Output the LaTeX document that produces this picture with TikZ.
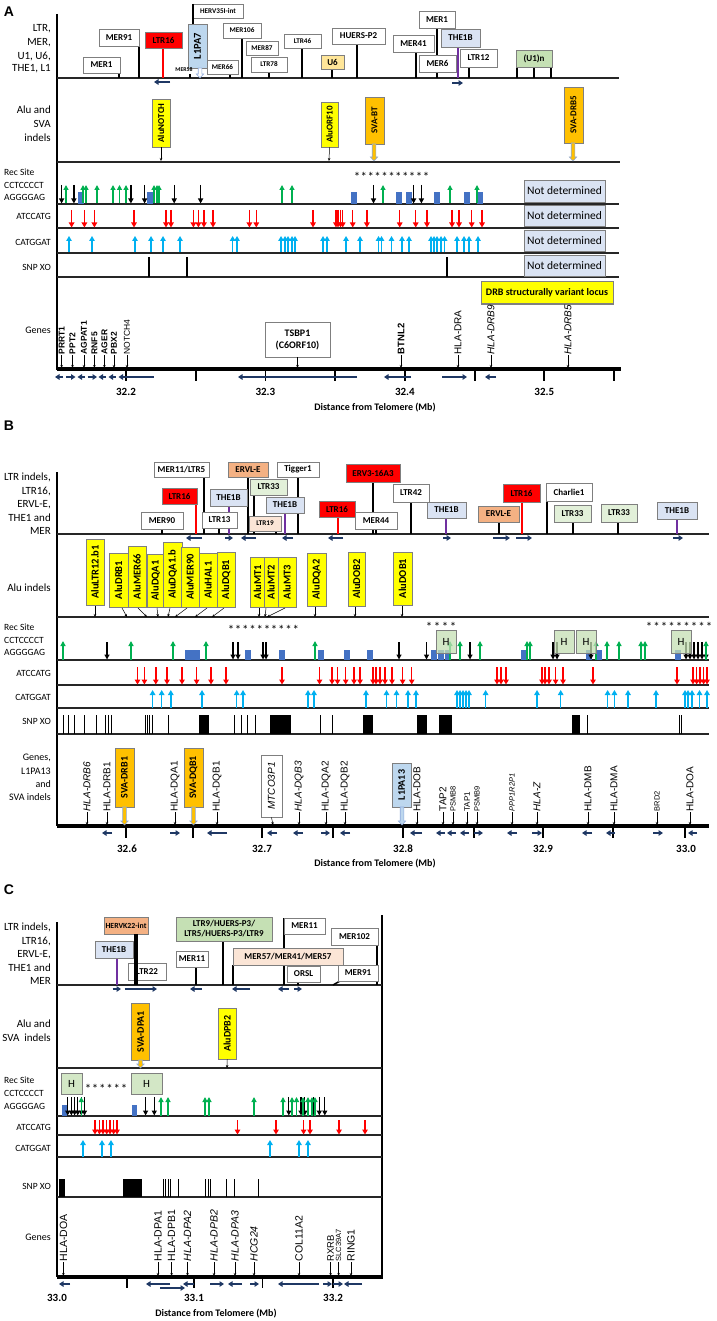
\documentclass[tikz,border=0pt]{standalone}
\usepackage{fontspec}
\setmainfont{Carlito}
\newfontfamily\arialf{Liberation Sans}
\usetikzlibrary{arrows.meta}
\definecolor{bxgray}{HTML}{7F7F7F}
\definecolor{ltrred}{HTML}{FF0000}
\definecolor{the}{HTML}{DAE3F3}
\definecolor{lone}{HTML}{BDD7EE}
\definecolor{grn}{HTML}{C5E0B4}
\definecolor{grnl}{HTML}{E2F0D9}
\definecolor{ervl}{HTML}{F4B183}
\definecolor{peach}{HTML}{FBE5D6}
\definecolor{usix}{HTML}{FFE699}
\definecolor{aluy}{HTML}{FFFF00}
\definecolor{svao}{HTML}{FFC000}
\definecolor{garr}{HTML}{00B050}
\definecolor{carr}{HTML}{00B0F0}
\definecolor{rectb}{HTML}{4472C4}
\definecolor{navy}{HTML}{1F3864}
\definecolor{purp}{HTML}{7030A0}
\definecolor{arrb}{HTML}{8FAADC}
\newcommand\LB[7]{\pgfmathsetmacro\lbcx{(#2+#4)/2}\pgfmathsetmacro\lbcy{(#3+#5)/2}%
\pgfmathsetmacro\lbw{#4-#2}\pgfmathsetmacro\lbh{#5-#3}%
\node[bx,minimum width=\lbw pt,minimum height=\lbh pt,#6] (#1) at (\lbcx,\lbcy) {#7};}
\newcommand\VB[7]{\pgfmathsetmacro\lbcx{(#2+#4)/2}\pgfmathsetmacro\lbcy{(#3+#5)/2}%
\pgfmathsetmacro\lbw{#4-#2}\pgfmathsetmacro\lbh{#5-#3}%
\node[bx,rotate=90,minimum width=\lbh pt,minimum height=\lbw pt,font=\bfseries\fontsize{10.5}{11}\selectfont,#6] (#1) at (\lbcx,\lbcy) {#7};}
\newcommand\FA[4]{\filldraw[fill=#4,draw=arrb,line width=0.6pt] (#1-1.8,#2) -- (#1+1.8,#2) -- (#1+1.8,#3-4) -- (#1+3.6,#3-4) -- (#1,#3) -- (#1-3.6,#3-4) -- (#1-1.8,#3-4) -- cycle;}
\newcommand\GL[6]{\node[glab,#5] (#1) at (#2,#3) {#6}; \draw[garw] (#1.west) -- (#2,#4);}
\begin{document}
\begin{tikzpicture}[x=1pt,y=-1pt,
 bx/.style={draw=bxgray,line width=0.8pt,inner sep=0pt,fill=white,font=\bfseries\fontsize{9}{10}\selectfont,align=center},
 sm/.style={font=\bfseries\fontsize{7.2}{8}\selectfont},
 trk/.style={line width=1.1pt,draw=black!85},
 lk/.style={line width=2.2pt},
 tk/.style={line width=1.5pt},
 rl/.style={draw=red,line width=1.5pt},
 pl/.style={draw=purp,line width=1.5pt},
 bkar/.style={draw=black,line width=1.2pt,-{Triangle[length=5pt,width=5pt]}},
 gnar/.style={draw=garr,line width=1.2pt,-{Triangle[length=5pt,width=5pt]}},
 rdar/.style={draw=red,line width=1.5pt,-{Triangle[length=5pt,width=5.5pt]}},
 cyar/.style={draw=carr,line width=1.5pt,-{Triangle[length=5pt,width=5.5pt]}},
 sarw/.style={draw=navy,line width=1.8pt,-{Triangle[length=4.5pt,width=5.5pt]}},
 garw/.style={line width=0.5pt,-{Stealth[length=3pt,width=2.5pt]}},
 tlab/.style={font=\fontsize{11}{13}\selectfont,anchor=east,inner sep=0pt},
 slab/.style={font=\fontsize{9.5}{11}\selectfont,anchor=east,inner sep=0pt},
 rlab/.style={font=\fontsize{9.5}{11}\selectfont,anchor=west,inner sep=0pt},
 glab/.style={font=\arialf\fontsize{10}{11}\selectfont,rotate=90,anchor=west,inner sep=0.5pt},
 hbx/.style={fill=grn,fill opacity=0.75,text opacity=1,font=\fontsize{11}{12}\selectfont},
 strs/.style={font=\fontsize{13}{13}\selectfont,inner sep=0pt},
 ticklab/.style={font=\bfseries\fontsize{11}{12}\selectfont},
 dist/.style={font=\bfseries\fontsize{10}{11}\selectfont},
 plab/.style={font=\arialf\bfseries\fontsize{14}{14}\selectfont},
 ndb/.style={fill=the,font=\fontsize{11.5}{12}\selectfont},
 gax/.style={line width=3.4pt},
 vax/.style={line width=2.2pt}]
\useasboundingbox (0,0) rectangle (716,1321);
\fill[white] (0,0) rectangle (716,1321);
%%%%%%%%%%%%%%%%%%%%%%%% PANEL A
\node[plab] (pA) at (9,12) {A};
\draw[vax] (57,14) -- (57,370);
\draw[trk] (57,78) -- (619,78);
\draw[trk] (57,162) -- (620,162);
\draw[trk] (57,204) -- (619,204);
\draw[trk] (57,228) -- (619,228);
\draw[trk] (57,253) -- (619,253);
\draw[trk] (57,277) -- (619,277);
\draw[gax] (57,369) -- (621,369);
\node[tlab] (la1) at (51,29) {LTR,};
\node[tlab] (la2) at (51,43) {MER,};
\node[tlab] (la3) at (51,56) {U1, U6,};
\node[tlab] (la4) at (51,69) {THE1, L1};
\node[tlab] (la5) at (51,110) {Alu and};
\node[tlab] (la6) at (51,124) {SVA};
\node[tlab] (la7) at (51,138) {indels};
\node[rlab] (la8) at (4,172) {Rec Site};
\node[rlab] (la9) at (4,185) {CCTCCCCT};
\node[rlab] (la10) at (4,197) {AGGGGAG};
\node[slab] (la11) at (51,216) {ATCCATG};
\node[slab] (la12) at (51,242) {CATGGAT};
\node[slab] (la13) at (51,267) {SNP XO};
\node[slab,font=\fontsize{10}{11}\selectfont] (la14) at (51,330) {Genes};
% LTR connectors
\draw[tk] (119,73) -- (119,78);
\draw[lk] (139,40) -- (139,78);
\draw[rl] (163,48) -- (163,78);
\draw[tk] (190,74) -- (190,78);
\draw[tk] (230,74) -- (230,78);
\draw[lk] (242,38) -- (242,78);
\draw[tk] (269,72) -- (269,78);
\draw[lk] (302,48) -- (302,78);
\draw[tk] (332,69) -- (332,78);
\draw[lk] (357,44) -- (357,78);
\draw[lk] (416,52) -- (416,78);
\draw[lk] (437,28) -- (437,78);
\draw[pl] (458,47) -- (458,78);
\draw[tk] (469,67) -- (469,78);
\foreach \x in {517,534,551} \draw[tk] (\x,67) -- (\x,78);
\LB{a1}{83}{57}{120}{73}{}{MER1}
\LB{a2}{99}{29}{139}{46}{}{MER91}
\LB{a3}{145}{32}{182}{48}{fill=ltrred}{LTR16}
\LB{a4}{193}{4}{243}{18}{sm}{HERV35I-int}
\draw[lk] (193,4) -- (193,24);
\VB{a5}{188}{24}{207}{68}{fill=lone,font=\bfseries\fontsize{10.5}{11}\selectfont}{L1PA7}
\FA{200}{68}{78}{white}
\node[font=\bfseries\fontsize{5.8}{6}\selectfont,inner sep=0pt] (a6) at (184,70) {MER58};
\LB{a7}{207}{60}{238}{74}{sm}{MER66}
\LB{a8}{223}{23}{261}{38}{sm}{MER106}
\LB{a9}{246}{41}{278}{55}{sm}{MER87}
\LB{a10}{251}{57}{287}{72}{sm}{LTR78}
\LB{a11}{284}{34}{321}{48}{sm}{LTR46}
\LB{a12}{321}{55}{344}{69}{fill=usix}{U6}
\LB{a13}{332}{28}{385}{44}{}{HUERS-P2}
\LB{a14}{393}{35}{434}{52}{}{MER41}
\LB{a15}{419}{11}{455}{28}{}{MER1}
\LB{a16}{419}{55}{456}{72}{}{MER6}
\LB{a17}{441}{29}{480}{47}{fill=the}{THE1B}
\LB{a18}{460}{49}{497}{67}{}{LTR12}
\LB{a19}{516}{50}{552}{67}{fill=grn}{(U1)n}
\draw[sarw] (170,82) -- (154,82);
\draw[sarw] (452,83) -- (463,83);
% Alu A
\VB{a20}{152}{99}{170}{147}{fill=aluy,font=\bfseries\fontsize{9}{10}\selectfont}{AluNOTCH}
\draw[garw] (a20.west) -- (161,161);
\VB{a21}{321}{102}{338}{147}{fill=aluy,font=\bfseries\fontsize{9}{10}\selectfont}{AluORF10}
\draw[garw] (a21.west) -- (329,161);
\VB{a22}{365}{97}{384}{144}{fill=svao,font=\bfseries\fontsize{9}{10}\selectfont}{SVA-BT}
\FA{374}{144}{161}{svao}
\VB{a23}{564}{87}{583}{143}{fill=svao,font=\bfseries\fontsize{9}{10}\selectfont}{SVA-DRB5}
\FA{573}{143}{161}{svao}
% Rec A
\foreach \i in {0,...,10} \node[strs] at (357+\i*6.9,177) {*};
\foreach \x in {81,150,354,399,409,437,467,480} \fill[rectb] (\x-2.8,192) rectangle (\x+2.8,204);
\foreach \x in {61.6,73.9,130.9,144.6,174.2,200.6,373.5,413.6,421.4} \draw[bkar] (\x,185) -- (\x,203.5);
\foreach \x in {66,83,86,97,113,119.5,126,154,157,159,282,292,383,450,477} \draw[gnar] (\x,203.5) -- (\x,185);
\foreach \x in {71.6,84.4,94.4,134,166,171,193.4,198.4,203.9,213,249.4,256.3,313,336,338,340.5,342.7,352.7,366.9,399.7,415.7,427,452,459,471.7,482} \draw[rdar] (\x,210) -- (\x,227.5);
\foreach \x in {69,92,135,151,163,180,232.6,237,281,285,288,292,295,323,327,346,360,378.5,381.5,391.5,402,409,431,434,437,441,444.6,457,464,469,478} \draw[cyar] (\x,252.5) -- (\x,236);
\foreach \x in {149,187,447} \draw[line width=1.1pt] (\x,257) -- (\x,277);
\LB{nd1}{524}{180}{605}{202}{ndb}{Not determined}
\LB{nd2}{524}{205}{605}{226}{ndb}{Not determined}
\LB{nd3}{524}{230}{605}{251}{ndb}{Not determined}
\LB{nd4}{524}{255}{605}{276}{ndb}{Not determined}
\LB{drb}{481}{282}{613}{304}{fill=aluy,draw=black!50,line width=1pt,font=\bfseries\fontsize{10}{11}\selectfont}{DRB structurally variant locus}
% Genes A
\GL{g1}{61.6}{355}{368}{font=\arialf\bfseries\fontsize{8.5}{9}\selectfont}{PRRT1}
\GL{g2}{72.5}{355}{368}{font=\arialf\bfseries\fontsize{8.5}{9}\selectfont}{PPT2}
\GL{g3}{84}{355}{368}{font=\arialf\bfseries\fontsize{8.5}{9}\selectfont}{AGPAT1}
\GL{g4}{94.4}{355}{368}{font=\arialf\bfseries\fontsize{8.5}{9}\selectfont}{RNF5}
\GL{g5}{104.4}{355}{368}{font=\arialf\bfseries\fontsize{8.5}{9}\selectfont}{AGER}
\GL{g6}{114}{355}{368}{font=\arialf\bfseries\fontsize{8.5}{9}\selectfont}{PBX2}
\GL{g7}{127}{355}{368}{font=\arialf\fontsize{8.5}{9}\selectfont}{NOTCH4}
\LB{tsbp}{265}{322}{330}{357}{font=\bfseries\fontsize{10}{12}\selectfont}{TSBP1\\(C6ORF10)}
\draw[garw] (tsbp.south) -- (297.5,368);
\GL{g8}{401}{355}{368}{font=\arialf\bfseries\fontsize{9.5}{10}\selectfont}{BTNL2}
\GL{g9}{458}{355}{368}{}{HLA-DRA}
\GL{g10}{491}{355}{368}{font=\arialf\itshape\fontsize{10}{11}\selectfont}{HLA-DRB9}
\GL{g11}{568}{355}{368}{font=\arialf\itshape\fontsize{10}{11}\selectfont}{HLA-DRB5}
\foreach \x in {126,195.7,265.4,335,404.9,474.6,544.3,614} \draw[line width=1.8pt] (\x,369) -- (\x,381);
\node[ticklab] (ta1) at (126,392) {32.2};
\node[ticklab] (ta2) at (265.4,392) {32.3};
\node[ticklab] (ta3) at (404.9,392) {32.4};
\node[ticklab] (ta4) at (544.3,392) {32.5};
\node[dist] (da) at (375,408) {Distance from Telomere (Mb)};
\draw[sarw] (63,377) -- (55,377);
\draw[sarw] (66,377) -- (75.5,377);
\draw[sarw] (85,377) -- (77.5,377);
\draw[sarw] (87.5,377) -- (97,377);
\draw[sarw] (106,377) -- (98.5,377);
\draw[sarw] (115.5,377) -- (108.5,377);
\draw[sarw] (153.5,377) -- (118.5,377);
\draw[sarw] (357,377) -- (238,377);
\draw[sarw] (411,377) -- (384,377);
\draw[sarw] (442,377) -- (467,377);
\draw[sarw] (496,377) -- (485,377);
%%%%%%%%%%%%%%%%%%%%%%%% PANEL B
\node[plab] (pB) at (9,426) {B};
\draw[vax] (57,472) -- (57,826);
\draw[trk] (57,534) -- (709,534);
\draw[trk] (57,617) -- (709,617);
\draw[trk] (57,660) -- (709,660);
\draw[trk] (57,685) -- (709,685);
\draw[trk] (57,708) -- (709,708);
\draw[trk] (57,734) -- (709,734);
\draw[gax] (57,826) -- (709,826);
\node[tlab] (lb1) at (51,477) {LTR indels,};
\node[tlab] (lb2) at (51,491) {LTR16,};
\node[tlab] (lb3) at (51,505) {ERVL-E,};
\node[tlab] (lb4) at (51,518) {THE1 and};
\node[tlab] (lb5) at (51,531) {MER};
\node[tlab] (lb6) at (51,588) {Alu indels};
\node[rlab] (lb7) at (4,627) {Rec Site};
\node[rlab] (lb8) at (4,640) {CCTCCCCT};
\node[rlab] (lb9) at (4,652) {AGGGGAG};
\node[slab] (lb10) at (51,673) {ATCCATG};
\node[slab] (lb11) at (51,697) {CATGGAT};
\node[slab] (lb12) at (51,721) {SNP XO};
\node[slab,font=\fontsize{10}{11}\selectfont] (lb13) at (51,758) {Genes,};
\node[slab,font=\fontsize{10}{11}\selectfont] (lb14) at (51,771) {L1PA13};
\node[slab,font=\fontsize{10}{11}\selectfont] (lb15) at (51,784) {and};
\node[slab,font=\fontsize{10}{11}\selectfont] (lb16) at (51,797) {SVA indels};
% connectors
\draw[lk] (204,477) -- (204,534);
\draw[lk] (248,477) -- (248,534);
\draw[lk] (298,477) -- (298,534);
\draw[rl] (196,504) -- (196,534);
\draw[pl] (229,506) -- (229,534);
\draw[lk] (254,495) -- (254,534);
\draw[pl] (285,513) -- (285,534);
\draw[tk] (219,528) -- (219,534);
\draw[tk] (276,531) -- (276,534);
\draw[tk] (162,529) -- (162,534);
\draw[rl] (338,517) -- (338,534);
\draw[lk] (373,482) -- (373,534);
\draw[tk] (376,529) -- (376,534);
\draw[lk] (411,502) -- (411,534);
\draw[pl] (446,518) -- (446,534);
\draw[lk] (499,522) -- (499,534);
\draw[rl] (522,502) -- (522,534);
\draw[lk] (547,495) -- (547,534);
\draw[lk] (573,522) -- (573,534);
\draw[lk] (618,522) -- (618,534);
\draw[pl] (677,519) -- (677,534);
\LB{b1}{154}{462}{209}{477}{}{MER11/LTR5}
\LB{b2}{228}{462}{268}{477}{fill=ervl}{ERVL-E}
\LB{b3}{277}{462}{319}{477}{}{Tigger1}
\LB{b4}{162}{488}{197}{504}{fill=ltrred}{LTR16}
\LB{b5}{210}{489}{247}{506}{fill=the}{THE1B}
\LB{b6}{250}{479}{287}{495}{fill=grnl}{LTR33}
\LB{b7}{266}{497}{304}{513}{fill=the}{THE1B}
\LB{b8}{202}{512}{237}{528}{}{LTR13}
\LB{b9}{249}{516}{281}{531}{fill=peach,sm}{LTR19}
\LB{b10}{141}{512}{183}{529}{}{MER90}
\LB{b11}{319}{501}{355}{517}{fill=ltrred}{LTR16}
\LB{b12}{346}{464}{400}{482}{fill=ltrred}{ERV3-16A3}
\LB{b13}{355}{512}{397}{529}{}{MER44}
\LB{b14}{393}{484}{429}{502}{}{LTR42}
\LB{b15}{427}{502}{466}{518}{fill=the}{THE1B}
\LB{b16}{478}{506}{519}{522}{fill=ervl}{ERVL-E}
\LB{b17}{503}{484}{540}{502}{fill=ltrred}{LTR16}
\LB{b18}{546}{483}{592}{501}{}{Charlie1}
\LB{b19}{554}{505}{591}{522}{fill=grnl}{LTR33}
\LB{b20}{601}{504}{637}{522}{fill=grnl}{LTR33}
\LB{b21}{657}{502}{697}{519}{fill=the}{THE1B}
\draw[sarw] (202,538) -- (186,538);
\draw[sarw] (225,538) -- (233,538);
\draw[sarw] (256,538) -- (241,538);
\draw[sarw] (293,538) -- (282,538);
\draw[sarw] (343,538) -- (328,538);
\draw[sarw] (443,538) -- (451,538);
\draw[sarw] (493,538) -- (510,538);
\draw[sarw] (516,538) -- (532,538);
\draw[sarw] (673,538) -- (683,538);
% Alu B
\VB{u1}{86}{539}{104}{605}{fill=aluy}{AluLTR12.b1}
\VB{u2}{109}{553}{128}{607}{fill=aluy}{AluDRB1}
\VB{u3}{128}{546}{146}{607}{fill=aluy}{AluMER66}
\VB{u4}{147}{554}{164}{607}{fill=aluy}{AluDQA1}
\VB{u5}{163}{542}{182}{607}{fill=aluy}{AluDQA1.b}
\VB{u6}{181}{547}{199}{607}{fill=aluy}{AluMER90}
\VB{u7}{199}{553}{217}{607}{fill=aluy}{AluHAL1}
\VB{u8}{217}{552}{235}{607}{fill=aluy}{AluDQB1}
\VB{u9}{250}{557}{265}{607}{fill=aluy}{AluMT1}
\VB{u10}{264}{557}{278}{607}{fill=aluy}{AluMT2}
\VB{u11}{278}{557}{296}{607}{fill=aluy}{AluMT3}
\VB{u12}{307}{553}{326}{606}{fill=aluy}{AluDQA2}
\VB{u13}{348}{552}{365}{606}{fill=aluy}{AluDOB2}
\VB{u14}{393}{552}{412}{605}{fill=aluy}{AluDOB1}
\draw[garw] (95,606) -- (95,617);
\draw[garw] (122,608) -- (127,617);
\draw[garw] (138,608) -- (147,617);
\draw[garw] (157,608) -- (158,617);
\draw[garw] (170,608) -- (168,617);
\draw[garw] (187,608) -- (175,617);
\draw[garw] (207,608) -- (195,617);
\draw[garw] (224,608) -- (212,617);
\draw[garw] (259,608) -- (259,617);
\draw[garw] (266,608) -- (265,617);
\draw[garw] (285,608) -- (267,617);
\draw[garw] (315,607) -- (315,617);
\draw[garw] (355,607) -- (355,617);
\draw[garw] (402,606) -- (402,617);
% Rec B
\foreach \i in {0,...,9} \node[strs] at (231+\i*7.2,630) {*};
\foreach \i in {0,...,3} \node[strs] at (429+\i*8,627) {*};
\foreach \i in {0,...,8} \node[strs] at (649+\i*7.5,627) {*};
\fill[rectb] (185,650) rectangle (200,660);
\foreach \x in {248,282,320.5,347,369.5,434,441,448,523.5,589,599,677.5} \fill[rectb] (\x-3,650) rectangle (\x+3,660);
\foreach \x in {107,233,238,263,266,399,426.5,470,553,557,591,686,690,694,698,702,706} \draw[bkar] (\x,642) -- (\x,659.5);
\foreach \x in {63,131,173,206,315,450,460,480,527,530,596,607,619,641,645,706} \draw[gnar] (\x,659.5) -- (\x,641);
\LB{h1}{436}{630}{456}{653}{hbx}{H}
\LB{h2}{554}{630}{574}{653}{hbx}{H}
\LB{h3}{576}{630}{596}{653}{hbx}{H}
\LB{h4}{671}{630}{691}{653}{hbx}{H}
\foreach \x in {137.5,144.4,155.8,167,182,196.6,211,226,282,319.5,332,337.5,345.7,354,360,373,376,380,385,392,402.6,411.7,497,501,506,542,545,549,555.6,563,593,677,693,696.6,700,703.6,707} \draw[rdar] (\x,667) -- (\x,684.5);
\foreach \x in {152.6,161.7,170.8,202,236.7,243,308,314,366,386.5,396.5,408,416,457,460,463,466,469,485.6,537,560.7,607.6,614.4,628,656,685,688,692,699.5,707} \draw[cyar] (\x,707.5) -- (\x,690);
\foreach \x in {63.4,68,74,84,96.6,105,108,111,145.7,147.5,149.8,152,168,234.5,241,247,255,320,332,587,679,681} \draw[line width=1pt] (\x,715) -- (\x,734);
\foreach \a/\b in {199/209,270/291,363/373,417/427,439/452,572/580} \fill (\a,715) rectangle (\b,734);
% Genes B
\GL{gb1}{87}{812}{825}{font=\arialf\itshape\fontsize{10}{11}\selectfont}{HLA-DRB6}
\GL{gb2}{107}{812}{825}{}{HLA-DRB1}
\VB{sv1}{115}{748}{134}{807}{fill=svao,font=\bfseries\fontsize{10}{11}\selectfont}{SVA-DRB1}
\FA{124.5}{807}{825}{svao}
\GL{gb3}{175}{812}{825}{}{HLA-DQA1}
\VB{sv2}{184}{748}{203}{807}{fill=svao,font=\bfseries\fontsize{10}{11}\selectfont}{SVA-DQB1}
\FA{193.5}{807}{825}{svao}
\GL{gb4}{217}{812}{825}{}{HLA-DQB1}
\VB{mt}{261}{755}{282}{817}{font=\arialf\itshape\fontsize{10}{11}\selectfont}{MTCO3P1}
\draw[garw] (mt.west) -- (273,825);
\GL{gb5}{299}{812}{825}{font=\arialf\itshape\fontsize{10}{11}\selectfont}{HLA-DQB3}
\GL{gb6}{326}{812}{825}{}{HLA-DQA2}
\GL{gb7}{345}{812}{825}{}{HLA-DQB2}
\VB{l13}{392}{763}{411}{807}{fill=lone,font=\bfseries\fontsize{10}{11}\selectfont}{L1PA13}
\FA{402}{807}{825}{lone}
\GL{gb8}{417}{812}{825}{}{HLA-DOB}
\GL{gb9}{443}{812}{825}{}{TAP2}
\GL{gb10}{453}{812}{825}{font=\arialf\fontsize{7.5}{8}\selectfont}{PSMB8}
\GL{gb11}{467}{812}{825}{font=\arialf\fontsize{8}{9}\selectfont}{TAP1}
\GL{gb12}{477}{812}{825}{font=\arialf\fontsize{7.5}{8}\selectfont}{PSMB9}
\GL{gb13}{512}{812}{825}{font=\arialf\itshape\fontsize{7.5}{8}\selectfont}{PPP1R2P1}
\GL{gb14}{537}{812}{825}{font=\arialf\itshape\fontsize{10}{11}\selectfont}{HLA-Z}
\GL{gb15}{588}{812}{825}{}{HLA-DMB}
\GL{gb16}{614}{812}{825}{}{HLA-DMA}
\GL{gb17}{657}{812}{825}{font=\arialf\fontsize{7.5}{8}\selectfont}{BRD2}
\GL{gb18}{690}{812}{825}{}{HLA-DOA}
\foreach \x in {126,193,262,333,403,474,543,613,685} \draw[line width=1.8pt] (\x,826) -- (\x,838);
\node[ticklab] (tb1) at (127,849) {32.6};
\node[ticklab] (tb2) at (262,849) {32.7};
\node[ticklab] (tb3) at (403,849) {32.8};
\node[ticklab] (tb4) at (543,849) {32.9};
\node[ticklab] (tb5) at (686,849) {33.0};
\node[dist] (db) at (375,864) {Distance from Telomere (Mb)};
\foreach \a/\b in {112/102,170/180,227/207,277/267,303/293,321/330,350/340,422/410,445/436,456/447,469/460,474/483,517/507,532/542,592/582,615/606,653/663,697/688} \draw[sarw] (\a,833) -- (\b,833);
%%%%%%%%%%%%%%%%%%%%%%%% PANEL C
\node[plab] (pC) at (9,890) {C};
\draw[vax] (57,922) -- (57,1277);
\draw[line width=1.5pt] (382,915) -- (382,1277);
\draw[trk] (57,985) -- (382,985);
\draw[trk] (57,1068) -- (382,1068);
\draw[trk] (57,1116) -- (382,1116);
\draw[trk] (57,1135) -- (382,1135);
\draw[trk] (57,1157) -- (382,1157);
\draw[trk] (57,1197) -- (382,1197);
\draw[gax] (57,1277) -- (383,1277);
\node[tlab] (lc1) at (51,927) {LTR indels,};
\node[tlab] (lc2) at (51,941) {LTR16,};
\node[tlab] (lc3) at (51,955) {ERVL-E,};
\node[tlab] (lc4) at (51,968) {THE1 and};
\node[tlab] (lc5) at (51,981) {MER};
\node[tlab] (lc6) at (51,1024) {Alu and};
\node[tlab] (lc7) at (51,1038) {SVA\ \ indels};
\node[rlab] (lc8) at (4,1080) {Rec Site};
\node[rlab] (lc9) at (4,1093) {CCTCCCCT};
\node[rlab] (lc10) at (4,1106) {AGGGGAG};
\node[slab] (lc11) at (51,1127) {ATCCATG};
\node[slab] (lc12) at (51,1148) {CATGGAT};
\node[slab] (lc13) at (51,1186) {SNP XO};
\node[slab,font=\fontsize{10}{11}\selectfont] (lc14) at (51,1237) {Genes};
\draw[pl] (117,958) -- (117,985);
\draw[lk] (223,941) -- (223,985);
\draw[lk] (196,967) -- (196,985);
\draw[lk] (284,918) -- (284,985);
\draw[lk] (233,965) -- (233,985);
\draw[lk] (377,945) -- (377,985);
\draw[tk] (298,982) -- (298,985);
\draw[tk] (340,981) -- (333,985);
\LB{c1}{104}{917}{148}{934}{fill=ervl,font=\bfseries\fontsize{7.8}{9}\selectfont}{HERVK22-int}
\LB{c2}{95}{941}{133}{958}{fill=the}{THE1B}
\LB{c3}{128}{963}{166}{980}{}{LTR22}
\draw[line width=3.8pt] (136,934) -- (136,985);
\LB{c4}{176}{917}{272}{941}{fill=grn}{LTR9/HUERS-P3/\\LTR5/HUERS-P3/LTR9}
\LB{c5}{176}{951}{208}{967}{}{MER11}
\LB{c6}{284}{918}{325}{934}{}{MER11}
\LB{c7}{233}{948}{343}{965}{fill=peach}{MER57/MER41/MER57}
\LB{c8}{331}{928}{378}{945}{}{MER102}
\LB{c9}{287}{966}{320}{982}{}{ORSL}
\LB{c10}{338}{965}{378}{981}{}{MER91}
\draw[sarw] (112.5,989) -- (121,989);
\draw[sarw] (124.7,989) -- (157,989);
\draw[sarw] (201.5,989) -- (190,989);
\draw[sarw] (250,989) -- (232,989);
\draw[sarw] (289,989) -- (278,989);
\draw[sarw] (294,989) -- (302,989);
\VB{c11}{131.5}{1003}{149.7}{1060}{fill=svao,font=\bfseries\fontsize{10}{11}\selectfont}{SVA-DPA1}
\FA{140.5}{1060}{1068}{svao}
\VB{c12}{218}{1008}{236.5}{1059}{fill=aluy,font=\bfseries\fontsize{10}{11}\selectfont}{AluDPB2}
\draw[garw] (c12.west) -- (227,1068);
\LB{hc1}{61}{1073}{82}{1094}{hbx}{H}
\LB{hc2}{131}{1073}{162}{1094}{hbx}{H}
\foreach \i in {0,...,5} \node[strs] at (88+\i*7.2,1089) {*};
\fill[rectb] (62,1105) rectangle (67,1116);
\fill[rectb] (131.5,1105) rectangle (136.5,1116);
\foreach \x in {67.7,71.4,74.6,77.7,81.3,84.5,145.6,154.3,288.8,301,304.8,313.8,319.3,324.8} \draw[bkar] (\x,1097) -- (\x,1115.5);
\foreach \x in {81.3,161,168,205,209,254,283,292,296.5,303,308,312,315} \draw[gnar] (\x,1115.5) -- (\x,1097);
\foreach \x in {95,99.4,103,106.7,110,113.6,117,237.5,276,303.6,310,339,365} \draw[rdar] (\x,1120) -- (\x,1134.5);
\foreach \x in {83,102,111,270,299,308} \draw[cyar] (\x,1156.5) -- (\x,1140);
\fill (59,1179) rectangle (65,1197);
\fill (123,1179) rectangle (142,1197);
\foreach \x in {163.5,165.8,168,170.8,178.5,205.7,208,210,226,234,258} \draw[line width=1pt] (\x,1179) -- (\x,1197);
\GL{gc1}{63.4}{1262}{1276}{font=\arialf\fontsize{10.5}{11}\selectfont}{HLA-DOA}
\GL{gc2}{158}{1262}{1276}{font=\arialf\fontsize{10.5}{11}\selectfont}{HLA-DPA1}
\GL{gc3}{171.6}{1262}{1276}{font=\arialf\fontsize{10.5}{11}\selectfont}{HLA-DPB1}
\GL{gc4}{187.5}{1262}{1276}{font=\arialf\itshape\fontsize{10.5}{11}\selectfont}{HLA-DPA2}
\GL{gc5}{214}{1262}{1276}{font=\arialf\itshape\fontsize{10.5}{11}\selectfont}{HLA-DPB2}
\GL{gc6}{235}{1262}{1276}{font=\arialf\itshape\fontsize{10.5}{11}\selectfont}{HLA-DPA3}
\GL{gc7}{254}{1262}{1276}{font=\arialf\itshape\fontsize{10.5}{11}\selectfont}{HCG24}
\GL{gc8}{299}{1262}{1276}{font=\arialf\fontsize{10.5}{11}\selectfont}{COL11A2}
\GL{gc9}{330.6}{1262}{1276}{font=\arialf\fontsize{9.5}{10}\selectfont}{RXRB}
\GL{gc10}{338.6}{1262}{1276}{font=\arialf\fontsize{7.5}{8}\selectfont}{SLC39A7}
\GL{gc11}{351}{1262}{1276}{font=\arialf\fontsize{10.5}{11}\selectfont}{RING1}
\foreach \x in {127,194,262.5,333} \draw[line width=1.8pt] (\x,1277) -- (\x,1288);
\node[ticklab] (tc1) at (57,1298) {33.0};
\node[ticklab] (tc2) at (194,1298) {33.1};
\node[ticklab] (tc3) at (333,1298) {33.2};
\node[dist] (dc) at (216,1314) {Distance from Telomere (Mb)};
\foreach \a/\b in {70/59,170/146,194/183,210/224,242/228,250/259,319/278,323/332,333/343,362/344} \draw[sarw] (\a,1284) -- (\b,1284);
\draw[sarw] (160,1288) -- (185,1288);
\end{tikzpicture}
\end{document}
